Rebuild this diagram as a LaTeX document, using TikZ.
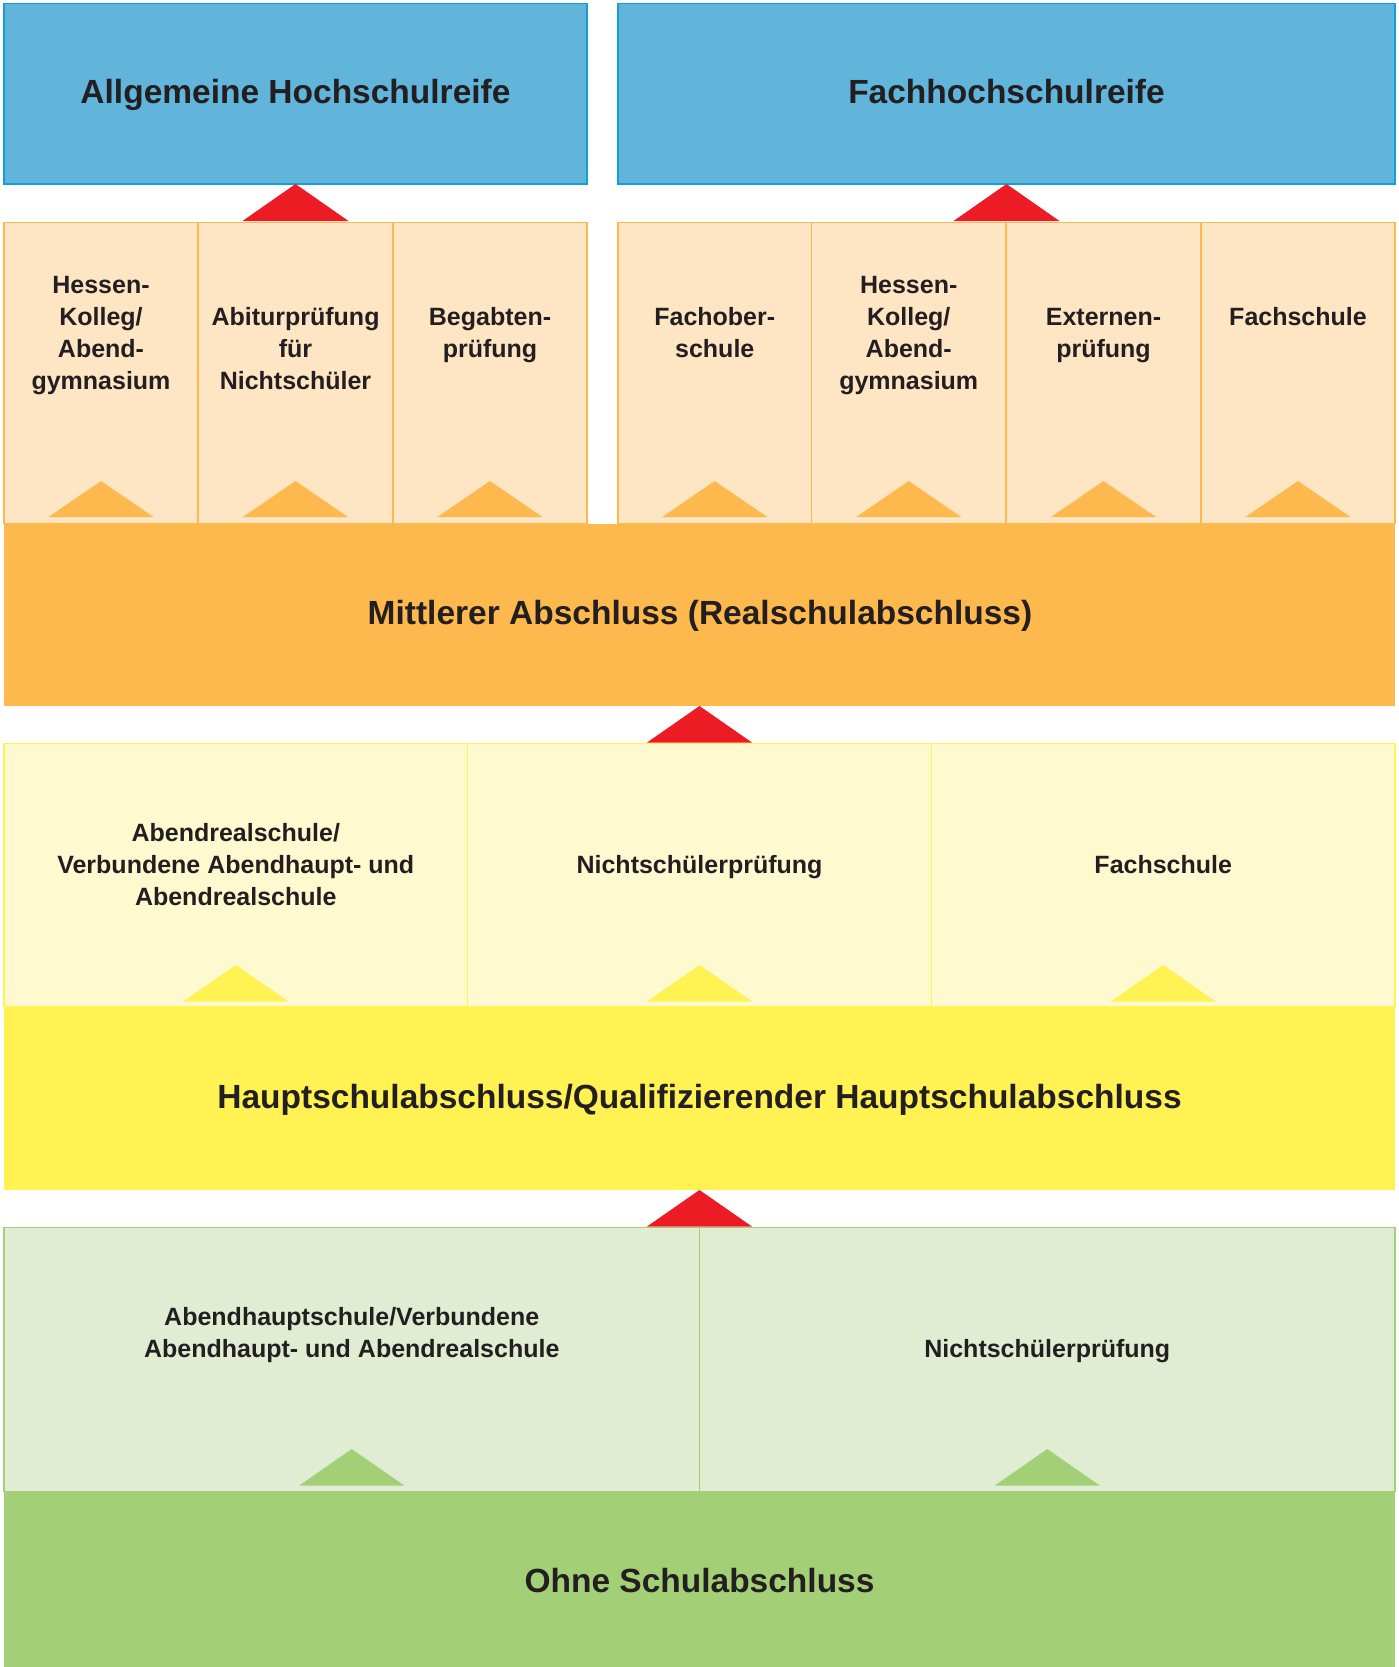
\documentclass[tikz,border=0pt]{standalone}
\usepackage{fontspec}
\setmainfont{Liberation Sans}
\definecolor{cBlue}{RGB}{97,180,218}
\definecolor{cBlueLine}{RGB}{20,160,214}
\definecolor{cPeach}{RGB}{254,229,195}
\definecolor{cOrange}{RGB}{253,185,77}
\definecolor{cRed}{RGB}{237,28,36}
\definecolor{cLYellow}{RGB}{255,249,208}
\definecolor{cYellow}{RGB}{255,242,82}
\definecolor{cLGreen}{RGB}{225,237,210}
\definecolor{cGreen}{RGB}{163,208,119}
\definecolor{cText}{RGB}{35,31,32}
\begin{document}
\begin{tikzpicture}[x=1pt,y=-1pt,
  every node/.style={inner sep=0pt, outer sep=0pt},
  bx/.style={rectangle, minimum width=#1},
  bluebox/.style={fill=cBlue, draw=cBlueLine, line width=1.3pt, minimum height=180.5},
  peachbox/.style={fill=cPeach, draw=cOrange, line width=1.5pt, minimum height=301},
  ybox/.style={fill=cLYellow, draw=cYellow, line width=1.5pt, minimum height=263},
  gbox/.style={fill=cLGreen, draw=cGreen, line width=1.5pt, minimum height=264},
  bar/.style={minimum width=1391},
  bigtxt/.style={anchor=base, text=cText, font=\fontsize{33.5}{40}\selectfont\bfseries},
  smalltxt/.style={anchor=base, align=center, text=cText, font=\fontsize{25}{32}\selectfont\bfseries},
  redtri/.style={fill=cRed},
  otri/.style={fill=cOrange},
  ytri/.style={fill=cYellow},
  gtri/.style={fill=cGreen}]
\useasboundingbox (0,0) rectangle (1399,1667);
\fill[white] (0,0) rectangle (1399,1667);

% top boxes
\node[bluebox, bx=583] (ahr) at (295.5,93.75) {};
\node[bluebox, bx=777] (fhr) at (1006.5,93.75) {};

% peach columns
\node[peachbox, bx=194] (p1) at (101,373) {};
\node[peachbox, bx=195] (p2) at (295.5,373) {};
\node[peachbox, bx=194] (p3) at (490,373) {};
\node[peachbox, bx=193.5] (p4) at (714.75,373) {};
\node[peachbox, bx=194.5] (p5) at (908.75,373) {};
\node[peachbox, bx=195] (p6) at (1103.5,373) {};
\node[peachbox, bx=194] (p7) at (1298,373) {};

% orange bar
\node[bar, fill=cOrange, minimum height=182] (mab) at (699.5,615) {};

% yellow row
\node[ybox, bx=463.5] (y1) at (235.75,875) {};
\node[ybox, bx=464] (y2) at (699.5,875) {};
\node[ybox, bx=463.5] (y3) at (1163.25,875) {};
\node[bar, fill=cYellow, minimum height=183] (hsa) at (699.5,1098.5) {};

% green row
\node[gbox, bx=695.5] (g1) at (351.75,1359.5) {};
\node[gbox, bx=695.5] (g2) at (1047.25,1359.5) {};
\node[bar, fill=cGreen, minimum height=176] (osa) at (699.5,1580) {};

% red triangles
\fill[redtri] (ahr.south) -- ++(53,37) -- ++(-106,0) -- cycle;
\fill[redtri] (fhr.south) -- ++(53,37) -- ++(-106,0) -- cycle;
\fill[redtri] (mab.south) -- ++(52.5,36.5) -- ++(-105,0) -- cycle;
\fill[redtri] (hsa.south) -- ++(52.5,36.5) -- ++(-105,0) -- cycle;

% small triangles
\foreach \n in {p1,p2,p3,p4,p5,p6,p7}{
  \fill[otri] ([yshift=42.5pt]\n.south) -- ++(52.5,36) -- ++(-105,0) -- cycle;
}
\foreach \n in {y1,y2,y3}{
  \fill[ytri] ([yshift=41.5pt]\n.south) -- ++(52.5,36.5) -- ++(-105,0) -- cycle;
}
\foreach \n in {g1,g2}{
  \fill[gtri] ([yshift=42.5pt]\n.south) -- ++(52.5,36.5) -- ++(-105,0) -- cycle;
}

% texts (base anchor = baseline of last line)
\node[bigtxt] (tahr) at (295.5,103.6) {Allgemeine Hochschulreife};
\node[bigtxt] (tfhr) at (1006.5,103.6) {Fachhochschulreife};

\node[smalltxt] (tp1) at (101,389.4) {Hessen-\\Kolleg/\\Abend-\\gymnasium};
\node[smalltxt] (tp2) at (295.5,389.6) {Abiturprüfung\\für\\Nichtschüler};
\node[smalltxt] (tp3) at (490,357.6) {Begabten-\\prüfung};
\node[smalltxt] (tp4) at (714.75,357.6) {Fachober-\\schule};
\node[smalltxt] (tp5) at (908.75,389.4) {Hessen-\\Kolleg/\\Abend-\\gymnasium};
\node[smalltxt] (tp6) at (1103.5,357.6) {Externen-\\prüfung};
\node[smalltxt] (tp7) at (1298,325.7) {Fachschule};

\node[bigtxt] (tmab) at (700,624.6) {Mittlerer Abschluss (Realschulabschluss)};

\node[smalltxt] (ty1) at (235.75,905.2) {Abendrealschule/\\Verbundene Abendhaupt- und\\Abendrealschule};
\node[smalltxt] (ty2) at (699.5,873.6) {Nichtschülerprüfung};
\node[smalltxt] (ty3) at (1163.25,873.6) {Fachschule};

\node[bigtxt] (thsa) at (699.5,1108.5) {Hauptschulabschluss/Qualifizierender Hauptschulabschluss};

\node[smalltxt] (tg1) at (351.75,1357.7) {Abendhauptschule/Verbundene\\Abendhaupt- und Abendrealschule};
\node[smalltxt] (tg2) at (1047.25,1357.5) {Nichtschülerprüfung};

\node[bigtxt] (tosa) at (699.5,1592.6) {Ohne Schulabschluss};
\end{tikzpicture}
\end{document}
